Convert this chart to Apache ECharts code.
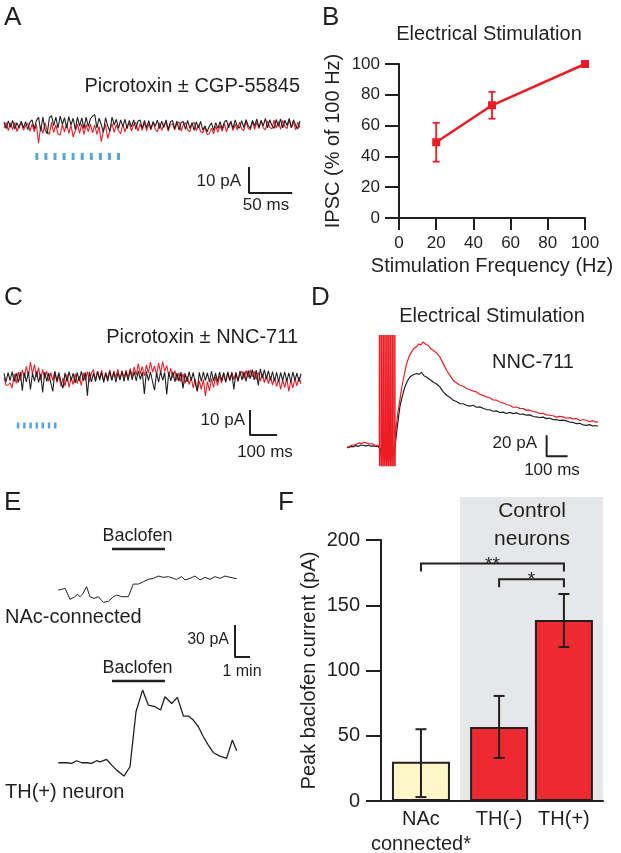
<!DOCTYPE html>
<html><head><meta charset="utf-8">
<script src="https://cdn.jsdelivr.net/npm/echarts@6/dist/echarts.min.js"></script>
<style>html,body{margin:0;padding:0;background:#fff}#c{width:621px;height:853px}</style>
</head><body><div id="c"></div>
<script>
// ---------------- DATA ----------------
// Panel A: spontaneous trace (pA), sampled every aStep ms
const aStep = 2.5;
const aBlack = [1.2,-1.4,1.6,-0.9,1.8,-1.6,0.9,-1.3,1.5,-1.1,
1.3,-1.8,1.1,2.0,-1.5,1.7,3.0,-2.4,3.0,-1.8,
-3.4,2.8,3.6,-0.2,3.0,-1.2,3.4,0.2,2.8,-1.2,
3.2,0.0,2.6,-1.8,3.0,-0.4,2.7,-1.4,3.0,-0.6,
2.4,3.4,4.0,-1.2,2.6,0.2,-2.8,2.8,-0.4,-2.4,
3.0,0.0,2.2,-1.3,2.0,-0.6,2.2,-1.4,1.8,-0.7,
2.0,-1.6,1.5,1.9,-1.3,1.8,-1.0,1.7,-1.5,1.3,
-0.5,1.9,-1.4,1.5,-1.0,2.0,-1.8,1.2,1.7,-1.4,
1.5,-2.0,1.0,1.3,-1.7,1.8,-1.3,0.9,-2.1,1.2,
-1.1,1.4,-2.0,-0.4,-2.6,-0.6,0.8,-2.1,0.9,-1.3,
1.3,-1.6,1.2,1.8,-1.1,1.5,-1.4,2.0,-0.6,-1.2,
1.7,-1.0,2.1,-0.2,-1.3,1.8,-0.4,2.3,-1.0,1.7,
-0.3,2.5,-1.1,2.0,-0.2,-1.3,2.1,-0.5,2.3,-1.1,
1.8,-0.3,2.5,-1.0,2.0,-0.2,-1.5,1.6];
const aRed = [-1.2,0.9,-2.2,0.8,-1.8,1.0,-2.5,-0.2,0.8,-2.0,
-0.2,0.7,-2.3,0.3,-2.6,0.2,-7.0,-0.4,-3.2,0.9,
-2.4,-3.6,1.0,-2.8,0.0,-3.5,-3.8,0.2,-2.6,0.4,
-3.2,-0.1,-4.6,-2.3,0.3,-3.2,0.4,-3.6,0.1,-2.5,
0.3,-3.0,0.0,-3.6,-0.5,-6.4,-2.4,0.3,-5.2,-2.2,
0.5,-2.8,0.1,-2.2,-3.3,0.3,-2.6,-0.2,0.6,-2.3,
0.2,1.0,-2.4,0.4,-2.0,1.0,-2.2,0.5,-1.9,1.2,
-1.7,-2.6,0.8,-2.1,0.3,1.0,-2.4,0.2,0.5,-2.0,
0.5,1.2,-2.3,0.2,0.9,-1.9,-2.6,0.3,1.0,-2.2,
0.0,-2.5,-3.0,-0.6,-3.6,-3.4,-1.2,-3.4,-0.5,-2.8,
-0.2,-2.3,0.6,-2.6,0.1,1.0,-2.1,0.3,-1.9,1.1,
-1.5,-2.2,1.3,-1.2,-1.9,1.4,-1.7,1.0,-1.4,1.8,
-1.1,-1.9,1.6,-0.9,-1.5,1.9,-1.2,1.3,-1.7,1.8,
-0.6,-1.4,2.0,-1.2,1.4,-1.9,1.1,-1.0];
const aStim = [38, 48.5, 59, 69.5, 80, 90.5, 101, 111.5, 122, 132.5]; // ms
const aScale = {pA: 10, ms: 50};

// Panel B
const bFreq = [20, 50, 100];
const bMean = [49.2, 73.2, 100];
const bLow  = [36.6, 64.5, 100];
const bHigh = [61.8, 81.9, 100];
const bTicks = [0, 20, 40, 60, 80, 100];

// Panel C
const cStep = 7.5;
const cBlack = [1.5,-2.0,1.8,-1.4,2.2,-1.9,1.6,-2.3,2.0,-5.5,
1.8,-2.0,2.1,-5.0,1.5,-1.7,2.3,-2.2,1.3,-6.2,
2.0,-1.8,1.6,-2.3,-5.8,2.1,-1.6,1.8,-2.1,-4.5,
1.7,-1.9,2.2,-1.4,1.5,-2.5,1.9,-1.7,2.3,-1.5,
1.8,-7.5,2.1,-2.0,1.6,-1.8,2.4,-1.3,1.9,-2.2,
1.5,-1.7,2.3,-1.4,2.0,-2.1,1.8,-1.2,2.5,-1.8,
2.1,-1.5,2.7,-1.1,2.2,-1.6,2.4,-0.9,1.9,-6.8,
2.3,-1.4,2.0,-1.8,-5.3,1.7,-2.1,2.2,-1.3,1.8,
-7.0,1.9,-1.6,2.1,-1.9,1.5,-1.7,2.0,-4.6,1.6,
-2.0,2.2,-1.5,1.8,-2.3,-5.6,1.9,-1.8,2.1,-1.4,
1.7,-2.1,2.3,-1.6,1.5,-1.9,2.0,-1.5,1.8,-2.2,
2.1,-1.3,1.6,-5.0,1.9,-1.7,2.4,-1.2,2.1,-1.8,
2.6,-0.7,3.0,-1.2,2.8,-3.4,3.3,-0.4,2.9,-0.8,
2.5,-1.4,2.2,-1.7,1.9,-2.0,1.8,-1.5,2.1,-1.8,
1.7,-2.1,2.0,-1.4,1.6,-1.9,1.3];
const cRed = [-0.2,-3.3,-3.2,-2.3,-4.4,1.3,-2.6,2.0,-1.6,2.8,
-0.2,4.3,0.4,6.0,1.2,5.0,0.0,3.8,-1.3,3.0,
-0.4,2.3,-1.8,1.7,-1.4,2.4,-2.2,0.6,-3.8,-0.4,
-3.6,1.1,-4.2,-0.2,-3.0,1.4,-2.6,0.4,-3.4,1.7,
-1.4,2.2,-2.0,1.6,3.0,-1.3,2.1,-0.6,2.7,-1.6,
1.8,-0.5,2.8,-1.2,2.4,-0.3,3.1,-1.0,2.2,-0.1,
2.7,-0.4,3.4,0.4,4.0,0.7,5.4,1.2,4.2,0.4,
4.8,1.6,6.0,2.0,4.4,0.8,5.6,1.4,6.2,2.2,
4.6,0.6,3.4,-0.4,2.6,-1.4,1.7,-2.0,1.3,-2.6,
0.4,-3.0,-0.2,-4.4,-0.7,-5.8,-1.6,-5.0,-1.0,-7.6,
-1.8,-5.6,-0.6,-4.2,0.0,-3.4,0.5,-2.4,1.2,-1.8,
1.6,-1.4,2.0,-1.0,1.7,-1.8,1.4,2.2,-0.6,2.6,
-0.2,2.8,0.1,2.3,-1.0,1.9,-1.6,1.2,-2.2,0.5,
-2.6,0.2,-3.2,-0.2,-3.8,-0.8,-5.0,-1.2,-4.2,-0.4,
-5.8,-1.4,-4.4,-0.6,-3.6,-0.1,-2.8];
const cStim = [52, 75, 98, 121, 143, 166, 189]; // ms
const cScale = {pA: 10, ms: 100};

// Panel D: evoked IPSC [ms, pA]
const dPulses = [154, 229.5]; // train start/end (ms)
const dBlack = [[0,-1.6],[10,-2.2],[20,-1],[30,-1.5],[42,-0.4],[54,-1.1],[66,0.2],[78,0],[90,-0.8],[102,0.3],[114,-0.9],[125,-0.6],[137,-1.2],[147,-0.8],[154,-1.6],[163,-5],[173,-8],[183,-10.5],[192,-12],[202,-12.7],[212,-10.5],[221,-8],[229,-1.6],[240,18],[252,36.5],[264,47],[276,55.6],[288,61.2],[300,65],[316,67.1],[332,68.3],[344,67.5],[356,69.2],[367,66.2],[379,65],[395,62.7],[411,60.3],[427,58.4],[443,55.6],[459,50.9],[475,47.6],[490,45.8],[506,42.9],[522,41.7],[538,39.7],[554,39.5],[570,38.1],[586,37.3],[602,38.1],[617,36.2],[633,36.5],[649,35.2],[665,34],[681,33.8],[697,32.4],[713,32.7],[729,31.2],[745,31.5],[760,30.2],[776,31.3],[792,30.1],[808,30.8],[824,29.5],[840,29.7],[856,28.6],[872,28.9],[888,27.4],[903,27],[919,26.4],[935,26.8],[951,25.4],[967,25.9],[983,24.3],[998,24.4],[1014,23.6],[1030,24.0],[1046,23.2],[1062,22.1],[1078,21.7],[1094,20.6],[1110,20.9],[1126,19.4],[1141,19],[1157,19.6],[1172,18.3],[1185,18.8],[1197,18.1]];
const dRed = [[0,-2.5],[10,-1.2],[22,0],[34,0.4],[46,1],[58,2.3],[70,1.6],[82,2.8],[94,2.2],[106,1.2],[117,1.6],[129,0.4],[141,0],[150,-1.2],
[154,-1],[154,105],[155,-20],[159,-6],[164.5,-8],[164.5,105],[165.5,-20],[170,-10],[175,-11],[175,105],[176,-20],[181,-12],[186,-13],[186,105],[187,-20],[192,-13],[196.5,-13],[196.5,105],[197.5,-20],[202,-12],[207,-12],[207,105],[208,-20],[213,-9],[218,-8],[218,105],[219,-20],[224,-4],[228.5,2],[228.5,105],[229.5,-20],[231,10],
[233,14.3],[242,30],[252,42.9],[261,55],[271,65],[279,73],[287,79.4],[297,85],[308,88.9],[320,92.5],[332,93.7],[342,96.5],[352,95.6],[363,98.4],[375,96.2],[387,95.2],[399,92],[411,90.5],[427,87.8],[443,84.1],[459,77.5],[475,71.4],[490,66.8],[506,61.9],[522,59.6],[538,57.1],[554,56.2],[570,54],[586,52.9],[601,51.8],[617,50.8],[633,48.6],[649,47.5],[665,46],[681,45.2],[697,43.1],[713,42.9],[729,41.2],[745,40.3],[760,38.8],[776,38.1],[792,36.2],[808,36.4],[824,35.1],[840,34.9],[856,33.2],[872,33.6],[888,31.9],[903,31.7],[919,30.2],[935,30.4],[951,28.9],[967,28.6],[983,28.1],[998,26.8],[1014,27.5],[1030,27],[1046,25.7],[1062,26.3],[1078,25.1],[1094,25.4],[1110,23.6],[1126,24.5],[1141,23.8],[1157,22.4],[1172,23.5],[1185,22.0],[1197,22.2]];
const dScale = {pA: 20, ms: 100};

// Panel E: baclofen responses [min, pA]
const eNAc = [[0.02,0],[0.24,0.6],[0.47,1.6],[0.8,-8.75],[1.13,-6.25],[1.29,-4.1],[1.47,-6.25],[1.64,-3.75],[1.91,3.1],[2.13,-6.25],[2.4,-7.8],[2.69,-6.25],[3.02,-11.6],[3.36,-10.6],[3.69,-6.25],[3.91,-4.7],[4.24,-6.25],[4.69,-6.25],[5.02,5.6],[5.36,5.6],[5.69,7.8],[6.02,10],[6.36,10.9],[6.69,13.1],[7.02,11.9],[7.36,12.5],[7.69,10.9],[7.91,10],[8.24,12.5],[8.47,9.4],[8.8,10.9],[9.13,13.1],[9.47,9.4],[9.8,11.9],[10.13,10],[10.47,12.5],[10.8,10.9],[11.13,13.1],[11.47,11.9],[11.91,10.6]];
const eTH = [[0.02,0],[0.58,0],[0.91,-0.6],[1.24,1.9],[1.58,0],[1.91,0],[2.24,-0.6],[2.58,1.9],[2.8,0.9],[3.24,3.1],[3.58,-2.2],[3.91,-6.9],[4.4,-12.5],[4.8,-3.75],[5.2,47.8],[5.64,68.1],[6.02,54.1],[6.47,52.5],[6.84,49.4],[7.13,61.9],[7.58,55.6],[7.96,61.25],[8.36,43.75],[8.69,43.75],[9.02,40],[9.36,33.75],[9.69,24.4],[10.02,16.6],[10.36,9.4],[10.8,6.25],[11.24,4.1],[11.62,21.25],[11.91,11.25]];
const eBaclofen = [3.6, 7.13]; // min
const eScale = {pA: 30, min: 1};

// Panel F
const fCategories = ['NAc\nconnected*', 'TH(-)', 'TH(+)'];
const fMean = [30, 56.7, 138.7];
const fLow  = [3, 33, 118];
const fHigh = [55, 80.5, 158.6];
const fComparisons = [[0, 2, '**'], [1, 2, '*']];
const fTicks = [0, 50, 100, 150, 200];

// ---------------- LAYOUT / STYLE ----------------
const FONT = '"Liberation Sans", Arial, Helvetica, sans-serif';
const INK = '#231f20';
const RED = '#ed1c24';
const BLUE = '#2b8fd1';
const fPos = [1.80, 5.32, 8.24];          // bar centres on F's x axis
const fBarColors = ['#fcf6c8', '#ed2a2f', '#ed2a2f'];
const fBracketLevel = [182, 170];
const aStimY = -12.1, cStimY = -19.4;
const aBarAt = [283.5, -26.2], cBarAt = [907, -23.2], dBarAt = [952, -10.5], eBarAt = [11.8, -62.8];
const eBacY = [38.4, 76.6];

function seq(values, step) { return values.map((v, i) => [i * step, v]); }
function scaleBar(at, dx, dy) { return [[at[0], at[1] + dy], [at[0], at[1]], [at[0] + dx, at[1]]]; }
function lineS(xi, data, color, w, extra) {
  return Object.assign({type: 'line', xAxisIndex: xi, yAxisIndex: xi, data: data, symbol: 'none',
    lineStyle: {color: color, width: w}, silent: true}, extra || {});
}
function errorBar(capW, lw, color) {
  return function (params, api) {
    const x = api.value(0), lo = api.value(1), hi = api.value(2);
    const a = api.coord([x, lo]), b = api.coord([x, hi]);
    const st = {stroke: color, lineWidth: lw};
    return {type: 'group', children: [
      {type: 'line', shape: {x1: a[0], y1: a[1], x2: b[0], y2: b[1]}, style: st},
      {type: 'line', shape: {x1: b[0] - capW / 2, y1: b[1], x2: b[0] + capW / 2, y2: b[1]}, style: st},
      {type: 'line', shape: {x1: a[0] - capW / 2, y1: a[1], x2: a[0] + capW / 2, y2: a[1]}, style: st}
    ]};
  };
}
function txt(text, x, y, size, align) {
  return {type: 'text', x: x, y: y, silent: true,
    style: {text: text, font: size + 'px ' + FONT, fill: INK, align: align || 'left', verticalAlign: 'middle'}};
}
function hiddenAxis(gi, min, max) { return {gridIndex: gi, type: 'value', min: min, max: max, show: false}; }

const axisBase = {
  axisLine: {show: true, lineStyle: {color: INK, width: 2}},
  axisTick: {show: true, lineStyle: {color: INK, width: 2}},
  splitLine: {show: false},
  nameMoveOverlap: false
};

const grids = [
  {left: 4, top: 99, width: 296, height: 104},      // A
  {left: 399, top: 64, width: 186, height: 154},    // B
  {left: 4, top: 352, width: 297, height: 100},     // C
  {left: 347, top: 335, width: 251, height: 131.25},// D
  {left: 58, top: 542, width: 195, height: 117.4},  // E1
  {left: 58, top: 677.4, width: 195, height: 106.7},// E2
  {left: 381, top: 540, width: 222, height: 261}    // F
].map(g => Object.assign({outerBoundsMode: 'none', containLabel: false}, g));

const xAxes = [
  hiddenAxis(0, 0, 342.5),
  Object.assign({}, axisBase, {gridIndex: 1, type: 'value', min: 0, max: 100, interval: 20,
    axisTick: {show: true, length: 12, lineStyle: {color: INK, width: 2}},
    axisLabel: {color: INK, fontSize: 17, fontFamily: FONT, margin: 17, customValues: bTicks},
    name: 'Stimulation Frequency (Hz)', nameLocation: 'middle', nameGap: 38,
    nameTextStyle: {color: INK, fontSize: 20, fontFamily: FONT}}),
  hiddenAxis(2, 0, 1095),
  hiddenAxis(3, 0, 1197),
  hiddenAxis(4, 0, 13),
  hiddenAxis(5, 0, 13),
  Object.assign({}, axisBase, {gridIndex: 6, type: 'value', min: 0, max: 10,
    axisTick: {show: false},
    axisLabel: {color: INK, fontSize: 20, fontFamily: FONT, margin: 6, lineHeight: 25, customValues: fPos,
      formatter: function (v) { const i = fPos.findIndex(p => Math.abs(p - v) < 1e-6); return i >= 0 ? fCategories[i] : ''; }}})
];
const yAxes = [
  hiddenAxis(0, -30, 10),
  Object.assign({}, axisBase, {gridIndex: 1, type: 'value', min: 0, max: 100, interval: 20,
    axisTick: {show: true, length: 14, lineStyle: {color: INK, width: 2}},
    axisLabel: {color: INK, fontSize: 17, fontFamily: FONT, margin: 19},
    name: 'IPSC (% of 100 Hz)', nameLocation: 'middle', nameGap: 56, nameRotate: 90,
    nameTextStyle: {color: INK, fontSize: 20, fontFamily: FONT}}),
  hiddenAxis(2, -30, 10),
  hiddenAxis(3, -20, 105),
  hiddenAxis(4, -65, 45),
  hiddenAxis(5, -20, 80),
  Object.assign({}, axisBase, {gridIndex: 6, type: 'value', min: 0, max: 200, interval: 50,
    axisTick: {show: true, length: 15, lineStyle: {color: INK, width: 2}},
    axisLabel: {color: INK, fontSize: 20, fontFamily: FONT, margin: 21, customValues: fTicks},
    name: 'Peak baclofen current (pA)', nameLocation: 'middle', nameGap: 62, nameRotate: 90,
    nameTextStyle: {color: INK, fontSize: 20, fontFamily: FONT}})
];

const series = [
  // A
  lineS(0, seq(aRed, aStep), RED, 1.1),
  lineS(0, seq(aBlack, aStep), INK, 1.1),
  {type: 'scatter', xAxisIndex: 0, yAxisIndex: 0, data: aStim.map(t => [t, aStimY]), symbol: 'rect',
   symbolSize: [3, 7], itemStyle: {color: BLUE}, silent: true},
  lineS(0, scaleBar(aBarAt, aScale.ms, aScale.pA), INK, 2),
  // B
  {type: 'custom', xAxisIndex: 1, yAxisIndex: 1, silent: true, renderItem: errorBar(7, 1.8, RED),
   data: bFreq.map((f, i) => [f, bLow[i], bHigh[i]]).filter((d) => d[1] !== d[2]), encode: {x: 0, y: [1, 2]}},
  lineS(1, bFreq.map((f, i) => [f, bMean[i]]), RED, 2.5, {symbol: 'rect', symbolSize: 8, itemStyle: {color: RED}}),
  // C
  lineS(2, seq(cRed, cStep), RED, 1.1),
  lineS(2, seq(cBlack, cStep), INK, 1.1),
  {type: 'scatter', xAxisIndex: 2, yAxisIndex: 2, data: cStim.map(t => [t, cStimY]), symbol: 'rect',
   symbolSize: [2.5, 6], itemStyle: {color: BLUE}, silent: true},
  lineS(2, scaleBar(cBarAt, cScale.ms, cScale.pA), INK, 2),
  // D
  lineS(3, dBlack, INK, 1.2),
  lineS(3, dRed, RED, 1.2, {markArea: {silent: true, itemStyle: {color: 'rgba(237,28,36,0.72)'},
    data: [[{xAxis: dPulses[0], yAxis: -20}, {xAxis: dPulses[1], yAxis: 105}]]}}),
  lineS(3, scaleBar(dBarAt, dScale.ms, dScale.pA), INK, 2),
  // E
  lineS(4, eNAc, INK, 1),
  lineS(4, eBaclofen.map(t => [t, eBacY[0]]), INK, 2.5),
  lineS(4, scaleBar(eBarAt, eScale.min, eScale.pA), INK, 2),
  lineS(5, eTH, INK, 1.3),
  lineS(5, eBaclofen.map(t => [t, eBacY[1]]), INK, 2.5),
  // F
  {type: 'bar', xAxisIndex: 6, yAxisIndex: 6, barWidth: 58, silent: true,
   data: fMean.map((v, i) => ({value: [fPos[i], v], itemStyle: {color: fBarColors[i], borderColor: INK, borderWidth: 2}}))},
  {type: 'custom', xAxisIndex: 6, yAxisIndex: 6, silent: true, renderItem: errorBar(11, 2, INK),
   data: fMean.map((v, i) => [fPos[i], fLow[i], fHigh[i]]), encode: {x: 0, y: [1, 2]}, z: 5},
  {type: 'custom', xAxisIndex: 6, yAxisIndex: 6, silent: true, z: 5,
   data: fComparisons.map((c, i) => [fPos[c[0]], fPos[c[1]], fBracketLevel[i]]), encode: {x: [0, 1], y: 2},
   renderItem: function (params, api) {
     const a = api.coord([api.value(0), api.value(2)]), b = api.coord([api.value(1), api.value(2)]);
     const leg = 8;
     return {type: 'group', children: [
       {type: 'polyline', shape: {points: [[a[0], a[1] + leg], a, b, [b[0], b[1] + leg]]},
        style: {stroke: INK, lineWidth: 2, fill: null}},
       {type: 'text', x: (a[0] + b[0]) / 2, y: a[1] + 1,
        style: {text: fComparisons[params.dataIndex][2], font: '19px ' + FONT, fill: INK, align: 'center', verticalAlign: 'middle'}}
     ]};
   }}
];

const graphics = [
  {type: 'rect', z: -10, silent: true, shape: {x: 460, y: 497, width: 143, height: 304}, style: {fill: '#e6e7e8'}},
  txt('A', 4, 18, 26), txt('B', 322, 18, 26), txt('C', 4, 298, 26), txt('D', 311, 298, 26),
  txt('E', 4, 503, 26), txt('F', 278, 503, 26),
  txt('Picrotoxin ± CGP-55845', 300, 86, 20, 'right'),
  txt('10 pA', 241, 181, 17, 'right'), txt('50 ms', 266, 205, 17, 'center'),
  txt('Electrical Stimulation', 489, 34, 20, 'center'),
  txt('Picrotoxin ± NNC-711', 298, 337, 20, 'right'),
  txt('10 pA', 245, 420, 17, 'right'), txt('100 ms', 265, 452, 17, 'center'),
  txt('Electrical Stimulation', 492, 316, 20, 'center'),
  txt('NNC-711', 533, 362, 20, 'center'),
  txt('20 pA', 537, 443, 17, 'right'), txt('100 ms', 552, 470, 17, 'center'),
  txt('Baclofen', 137.5, 536, 18, 'center'),
  txt('NAc-connected', 5, 617, 20),
  txt('30 pA', 229, 640, 16, 'right'), txt('1 min', 242, 672, 16, 'center'),
  txt('Baclofen', 137.5, 668, 18, 'center'),
  txt('TH(+) neuron', 5, 792, 20),
  txt('Control', 532, 511, 21, 'center'), txt('neurons', 532, 539, 21, 'center')
];

const chart = echarts.init(document.getElementById('c'), null, {renderer: 'canvas'});
chart.setOption({
  animation: false,
  backgroundColor: '#ffffff',
  textStyle: {fontFamily: FONT},
  grid: grids, xAxis: xAxes, yAxis: yAxes, series: series,
  graphic: {elements: graphics}
});
</script></body></html>
